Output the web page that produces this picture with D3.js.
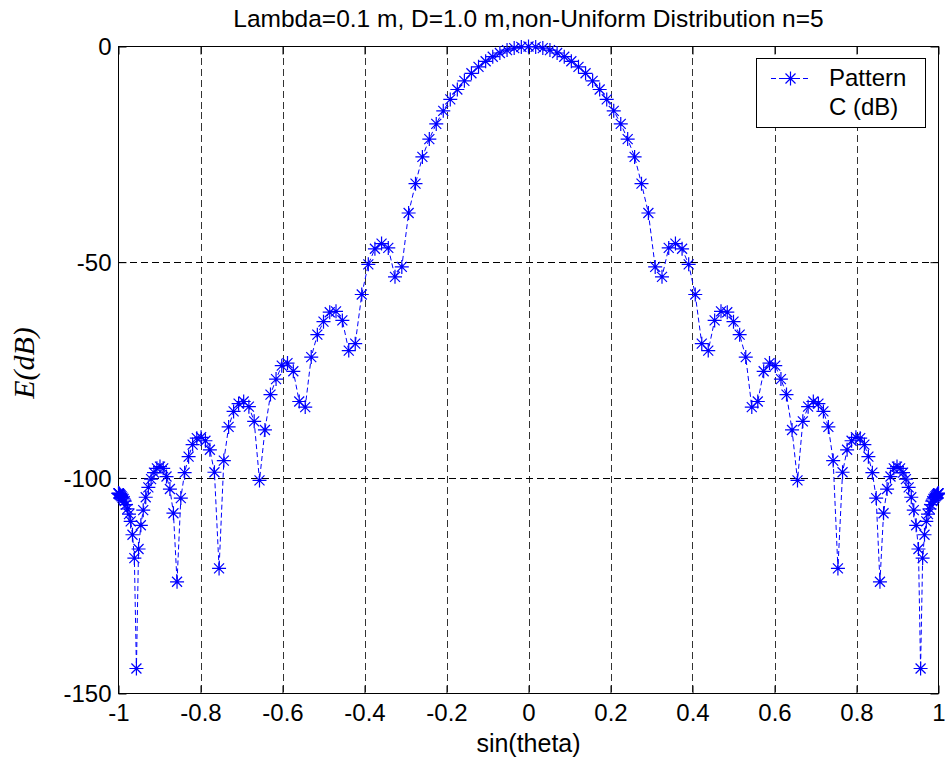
<!DOCTYPE html>
<html><head><meta charset="utf-8">
<script src="https://cdn.jsdelivr.net/npm/d3@7"></script>
<style>body{margin:0;background:#fff} text{font-family:"Liberation Sans",Arial,Helvetica,sans-serif}</style>
</head><body>
<svg id="chart" width="945" height="765"></svg>
<script>
// x values: sin(theta), theta = -90..90 deg
const sinTheta = [
-1.0000,-0.9998,-0.9994,-0.9986,-0.9976,-0.9962,-0.9945,-0.9925,-0.9903,-0.9877,
-0.9848,-0.9816,-0.9781,-0.9744,-0.9703,-0.9659,-0.9613,-0.9563,-0.9511,-0.9455,
-0.9397,-0.9336,-0.9272,-0.9205,-0.9135,-0.9063,-0.8988,-0.8910,-0.8829,-0.8746,
-0.8660,-0.8572,-0.8480,-0.8387,-0.8290,-0.8192,-0.8090,-0.7986,-0.7880,-0.7771,
-0.7660,-0.7547,-0.7431,-0.7314,-0.7193,-0.7071,-0.6947,-0.6820,-0.6691,-0.6561,
-0.6428,-0.6293,-0.6157,-0.6018,-0.5878,-0.5736,-0.5592,-0.5446,-0.5299,-0.5150,
-0.5000,-0.4848,-0.4695,-0.4540,-0.4384,-0.4226,-0.4067,-0.3907,-0.3746,-0.3584,
-0.3420,-0.3256,-0.3090,-0.2924,-0.2756,-0.2588,-0.2419,-0.2250,-0.2079,-0.1908,
-0.1736,-0.1564,-0.1392,-0.1219,-0.1045,-0.0872,-0.0698,-0.0523,-0.0349,-0.0175,
0,
0.0175,0.0349,0.0523,0.0698,0.0872,0.1045,0.1219,0.1392,0.1564,0.1736,
0.1908,0.2079,0.2250,0.2419,0.2588,0.2756,0.2924,0.3090,0.3256,0.3420,
0.3584,0.3746,0.3907,0.4067,0.4226,0.4384,0.4540,0.4695,0.4848,0.5000,
0.5150,0.5299,0.5446,0.5592,0.5736,0.5878,0.6018,0.6157,0.6293,0.6428,
0.6561,0.6691,0.6820,0.6947,0.7071,0.7193,0.7314,0.7431,0.7547,0.7660,
0.7771,0.7880,0.7986,0.8090,0.8192,0.8290,0.8387,0.8480,0.8572,0.8660,
0.8746,0.8829,0.8910,0.8988,0.9063,0.9135,0.9205,0.9272,0.9336,0.9397,
0.9455,0.9511,0.9563,0.9613,0.9659,0.9703,0.9744,0.9781,0.9816,0.9848,
0.9877,0.9903,0.9925,0.9945,0.9962,0.9976,0.9986,0.9994,0.9998,1.0000
];
// Pattern C in dB
const patternDb = [
-103.6,-103.6,-103.6,-103.7,-103.8,-103.9,-104.1,-104.3,-104.6,-104.9,
-105.4,-106.2,-107.2,-108.4,-110.1,-113.2,-118.6,-144.2,-116.5,-111.0,
-107.5,-104.5,-102.2,-100.3,-98.8,-97.8,-97.4,-97.8,-99.7,-102.6,
-108.2,-124.1,-104.7,-98.8,-95.1,-92.3,-90.8,-90.6,-91.4,-93.5,
-98.7,-121.0,-96.0,-88.2,-84.6,-82.8,-82.3,-83.5,-86.9,-100.6,
-88.9,-80.7,-77.1,-74.0,-73.4,-75.3,-82.3,-83.6,-72.0,-66.8,
-63.8,-61.6,-61.4,-63.5,-70.5,-68.9,-57.5,-50.5,-46.9,-45.7,
-46.7,-53.4,-51.1,-38.6,-31.8,-25.6,-21.46,-17.94,-14.91,-12.27,
-9.97,-7.96,-6.21,-4.71,-3.43,-2.37,-1.51,-0.84,-0.37,-0.09,
0,
-0.09,-0.37,-0.84,-1.51,-2.37,-3.43,-4.71,-6.21,-7.96,-9.97,
-12.27,-14.91,-17.94,-21.46,-25.6,-31.8,-38.6,-51.1,-53.4,-46.7,
-45.7,-46.9,-50.5,-57.5,-68.9,-70.5,-63.5,-61.4,-61.6,-63.8,
-66.8,-72.0,-83.6,-82.3,-75.3,-73.4,-74.0,-77.1,-80.7,-88.9,
-100.6,-86.9,-83.5,-82.3,-82.8,-84.6,-88.2,-96.0,-121.0,-98.7,
-93.5,-91.4,-90.6,-90.8,-92.3,-95.1,-98.8,-104.7,-124.1,-108.2,
-102.6,-99.7,-97.8,-97.4,-97.8,-98.8,-100.3,-102.2,-104.5,-107.5,
-111.0,-116.5,-144.2,-118.6,-113.2,-110.1,-108.4,-107.2,-106.2,-105.4,
-104.9,-104.6,-104.3,-104.1,-103.9,-103.8,-103.7,-103.6,-103.6,-103.6
];
const xTicks = [-1,-0.8,-0.6,-0.4,-0.2,0,0.2,0.4,0.6,0.8,1];
const xTickLabels = ["-1","-0.8","-0.6","-0.4","-0.2","0","0.2","0.4","0.6","0.8","1"];
const yTicks = [0,-50,-100,-150];
const yTickLabels = ["0","-50","-100","-150"];
const titleText = "Lambda=0.1 m, D=1.0 m,non-Uniform Distribution n=5";
const xLabelText = "sin(theta)";
const yLabelText = "E(dB)";
const legendLines = ["Pattern","C (dB)"];

const svg = d3.select("#chart");
const L = 118.5, R = 938.5, T = 46.5, B = 693.5;
const x = d3.scaleLinear().domain([-1,1]).range([L,R]);
const y = d3.scaleLinear().domain([-150,0]).range([B,T]);

svg.append("rect").attr("width",945).attr("height",765).attr("fill","#fff");
svg.append("rect").attr("x",L).attr("y",T).attr("width",R-L).attr("height",B-T).attr("fill","#fff");

// grid
const grid = svg.append("g").attr("stroke-width",1).attr("stroke-dasharray","7,4").attr("shape-rendering","crispEdges");
xTicks.filter(d=>d>-1&&d<1).forEach(d=>{
  grid.append("line").attr("stroke","#333").attr("x1",Math.round(x(d))+0.5).attr("x2",Math.round(x(d))+0.5).attr("y1",T).attr("y2",B);
});
yTicks.filter(d=>d<0&&d>-150).forEach(d=>{
  grid.append("line").attr("stroke","#000").attr("x1",L).attr("x2",R).attr("y1",Math.round(y(d))+0.5).attr("y2",Math.round(y(d))+0.5);
});

// axes with inward ticks on all four sides
const tl = 8;
const axB = d3.axisBottom(x).tickValues(xTicks).tickSize(-tl).tickFormat((d,i)=>xTickLabels[i]).tickPadding(14);
const axT = d3.axisTop(x).tickValues(xTicks).tickSize(-tl).tickFormat("");
const axLf = d3.axisLeft(y).tickValues(yTicks).tickSize(-tl).tickFormat((d,i)=>yTickLabels[i]).tickPadding(14);
const axRt = d3.axisRight(y).tickValues(yTicks).tickSize(-tl).tickFormat("");
function styleAxis(g){
  g.select(".domain").remove();
  g.selectAll(".tick line").attr("stroke","#000").attr("stroke-width",1);
  g.selectAll("text").attr("fill","#000").style("font-size","24px").style("font-family","'Liberation Sans',Arial,sans-serif");
}
svg.append("g").attr("transform",`translate(0,${B})`).call(axB).call(styleAxis)
  .selectAll("text").attr("dy","0.71em").attr("y",10);
svg.append("g").attr("transform",`translate(0,${T})`).call(axT).call(styleAxis);
svg.append("g").attr("transform",`translate(${L},0)`).call(axLf).call(styleAxis)
  .selectAll("text").attr("x",-7).attr("dy","0.35em");
svg.append("g").attr("transform",`translate(${R},0)`).call(axRt).call(styleAxis);

// box
svg.append("rect").attr("x",L).attr("y",T).attr("width",R-L).attr("height",B-T)
  .attr("fill","none").attr("stroke","#000").attr("stroke-width",1);

// data
const pts = sinTheta.map((s,i)=>({s, v: patternDb[i]}));
const line = d3.line().x(d=>x(d.s)).y(d=>y(d.v));
svg.append("path").datum(pts).attr("d",line).attr("fill","none")
  .attr("stroke","#0000ff").attr("stroke-width",1).attr("stroke-dasharray","5,3");
const star = "M-7,0H7M0,-7V7M-5,-5L5,5M-5,5L5,-5";
svg.append("g").selectAll("path").data(pts).join("path")
  .attr("d",star).attr("transform",d=>`translate(${x(d.s)},${y(d.v)})`)
  .attr("fill","none").attr("stroke","#0000ff").attr("stroke-width",1.2);

// title and labels
svg.append("text").attr("x",(L+R)/2).attr("y",27).attr("text-anchor","middle")
  .style("font-size","24.5px").attr("fill","#000").text(titleText);
svg.append("text").attr("x",(L+R)/2).attr("y",752).attr("text-anchor","middle")
  .style("font-size","25px").attr("fill","#000").text(xLabelText);
svg.append("text").attr("transform","translate(34,363) rotate(-90)").attr("text-anchor","middle")
  .style("font-family","'Liberation Serif','Times New Roman',serif").style("font-style","italic")
  .style("font-size","30px").attr("fill","#000").text(yLabelText);

// legend
const lg = svg.append("g");
lg.append("rect").attr("x",756.5).attr("y",58.5).attr("width",169).attr("height",69)
  .attr("fill","#fff").attr("stroke","#000").attr("stroke-width",1);
lg.append("line").attr("x1",771).attr("x2",810).attr("y1",78.5).attr("y2",78.5)
  .attr("stroke","#0000ff").attr("stroke-width",1).attr("stroke-dasharray","5,3");
lg.append("path").attr("d",star).attr("transform","translate(790.5,78.5)")
  .attr("fill","none").attr("stroke","#0000ff").attr("stroke-width",1.2);
legendLines.forEach((t,i)=>{
  lg.append("text").attr("x",829).attr("y",86+i*29).style("font-size","24px").attr("fill","#000").text(t);
});
</script>
</body></html>
